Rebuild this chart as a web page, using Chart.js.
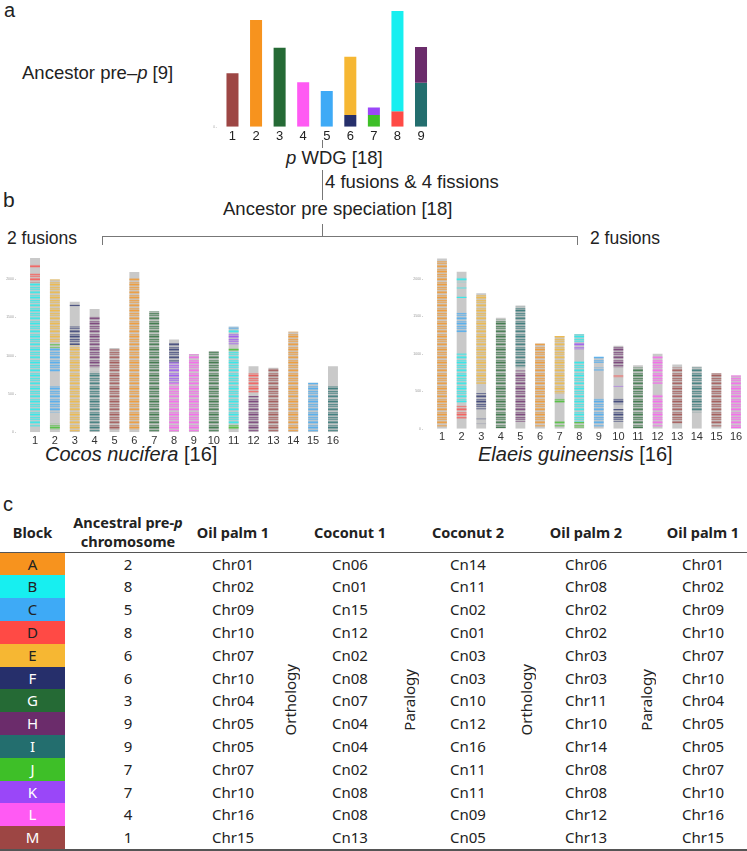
<!DOCTYPE html>
<html>
<head>
<meta charset="utf-8">
<script src="https://cdn.jsdelivr.net/npm/chart.js@4.4.1/dist/chart.umd.min.js"></script>
<style>
body { margin: 0; width: 747px; height: 851px; position: relative; background: #fff; overflow: hidden;
       font-family: "Liberation Sans", Arial, sans-serif; color: #222; }
.t { position: absolute; white-space: nowrap; line-height: 1; font-size: 18.5px; }
.ln { position: absolute; background: #777; }
canvas { position: absolute; }
#tbl { position: absolute; left: 0; top: 511.7px; width: 747px; border-collapse: collapse; table-layout: fixed;
       font-family: "Noto Sans", sans-serif; font-size: 15px; color: #222; }
#tbl th { font-size: 14.5px; font-weight: bold; height: 40px; padding: 0; line-height: 18.3px;
          border-bottom: 1.5px solid #555; vertical-align: middle; }
#tbl td { height: 22.8px; padding: 0; text-align: center; vertical-align: middle; line-height: 1; }
#tbl tr:last-child td { border-bottom: 2px solid #555; }
#tbl td.rot { border-bottom: 2px solid #555; }
.vt { writing-mode: vertical-rl; transform: rotate(180deg); display: inline-block; font-size: 15px; }
</style>
</head>
<body>

<div class="t" style="left:4px;top:0px;font-size:20px">a</div>
<div class="t" style="left:22px;top:64px">Ancestor pre–<i>p</i> [9]</div>
<div class="t" style="left:286px;top:149px"><i>p</i> WDG [18]</div>
<div class="t" style="left:325px;top:172.5px">4 fusions &amp; 4 fissions</div>
<div class="t" style="left:223px;top:200px">Ancestor pre speciation [18]</div>
<div class="t" style="left:3px;top:189px;font-size:21px">b</div>
<div class="t" style="left:7px;top:229.5px;font-size:17.5px">2 fusions</div>
<div class="t" style="left:590px;top:229.5px;font-size:17.5px">2 fusions</div>
<div class="t" style="left:45px;top:443.5px;font-size:20px"><i>Cocos nucifera</i> [16]</div>
<div class="t" style="left:478px;top:443.5px;font-size:20px"><i>Elaeis guineensis</i> [16]</div>
<div class="t" style="left:3px;top:494px;font-size:20px">c</div>

<div class="ln" style="left:322px;top:140px;width:1px;height:8px"></div>
<div class="ln" style="left:322px;top:170px;width:1px;height:30px"></div>
<div class="ln" style="left:322px;top:224px;width:1px;height:12px"></div>
<div class="ln" style="left:102px;top:236px;width:476px;height:1px"></div>
<div class="ln" style="left:102px;top:236px;width:1px;height:9px"></div>
<div class="ln" style="left:577px;top:236px;width:1px;height:9px"></div>

<canvas id="ancestor" width="240" height="150" style="left:200px;top:0px"></canvas>
<canvas id="cocos" width="350" height="205" style="left:0px;top:245px"></canvas>
<canvas id="elaeis" width="347" height="205" style="left:400px;top:245px"></canvas>

<table id="tbl"></table>

<script>
// blocks and their colours
const blocks = ["A", "B", "C", "D", "E", "F", "G", "H", "I", "J", "K", "L", "M"];
const blockColors = ["#f7931e", "#17eff0", "#3eaaf6", "#ff4a45", "#f6b733", "#262f6b", "#256a35",
                     "#6b2c6b", "#236e6e", "#3ebf28", "#9a47f8", "#ff5af3", "#9d4644"];
const blockDarkText = ["A", "B", "C", "D", "E"];

/* ================= PANEL A ================= */
const ancestorLabels = ["1", "2", "3", "4", "5", "6", "7", "8", "9"];
// [chromosome, from, to, block]
const ancestorSegments = [
    [1, 0, 2320, "M"],
    [2, 0, 4640, "A"],
    [3, 0, 3430, "G"],
    [4, 0, 1930, "L"],
    [5, 0, 1550, "C"],
    [6, 0, 510, "F"], [6, 510, 3040, "E"],
    [7, 0, 510, "J"], [7, 510, 840, "K"],
    [8, 0, 670, "D"], [8, 670, 5030, "B"],
    [9, 0, 1910, "I"], [9, 1910, 3470, "H"]
];

/* ================= PANEL B ================= */
const chromLabels = ["1", "2", "3", "4", "5", "6", "7", "8", "9", "10", "11", "12", "13", "14", "15", "16"];
const cocosLengths = [2274, 1995, 1705, 1608, 1099, 2092, 1579, 1212, 1023, 1061, 1377, 863, 842, 1314, 648, 863];
const elaeisLengths = [2269, 2090, 1804, 1479, 1641, 1137, 1235, 1261, 957, 1107, 846, 1000, 855, 829, 739, 709];
const yTicks = [0, 500, 1000, 1500, 2000];

// [chromosome, top, bottom, block]
const cocosBands = [
    [1, 2189, 2147, "D"], [1, 2080, 1953, "D"], [1, 1953, 72, "B"],
    [2, 1995, 1166, "E"], [2, 1150, 1100, "J"], [2, 1100, 790, "C"], [2, 600, 260, "C"], [2, 115, 30, "J"],
    [3, 1665, 1645, "F"], [3, 1380, 1140, "F"], [3, 1140, 10, "E"],
    [4, 1510, 850, "H"], [4, 790, 10, "I"],
    [5, 1080, 30, "M"],
    [6, 2010, 30, "A"],
    [7, 1580, 10, "G"],
    [8, 1166, 914, "F"], [8, 914, 640, "K"], [8, 640, 10, "L"],
    [9, 1020, 10, "L"],
    [10, 1060, 10, "G"],
    [11, 1377, 1345, "C"], [11, 1345, 1295, "B"], [11, 1295, 1150, "K"], [11, 1095, 1060, "J"],
    [11, 1060, 95, "B"], [11, 95, 40, "J"],
    [12, 770, 515, "D"], [12, 475, 10, "H"],
    [13, 840, 10, "M"],
    [14, 1314, 10, "A"],
    [15, 648, 10, "C"],
    [16, 600, 10, "I"]
];
const elaeisBands = [
    [1, 2230, 25, "A"],
    [2, 2015, 1950, "B"], [2, 1880, 1860, "B"], [2, 1760, 1740, "B"], [2, 1545, 1285, "C"],
    [2, 1010, 350, "B"], [2, 305, 130, "D"],
    [3, 1780, 600, "E"], [3, 475, 260, "F"], [3, 140, 125, "F"], [3, 70, 55, "F"],
    [4, 1460, 10, "G"],
    [5, 1630, 820, "I"], [5, 775, 90, "H"],
    [6, 1137, 25, "A"],
    [7, 1235, 470, "E"], [7, 410, 345, "J"], [7, 100, 25, "J"],
    [8, 1257, 1150, "B"], [8, 1150, 1060, "K"], [8, 900, 90, "B"], [8, 90, 15, "J"],
    [9, 962, 880, "C"], [9, 816, 774, "C"], [9, 410, 25, "C"],
    [10, 1100, 820, "H"], [10, 710, 680, "D"], [10, 581, 560, "K"], [10, 410, 325, "F"], [10, 261, 90, "F"],
    [11, 816, 5, "G"],
    [12, 966, 600, "L"], [12, 455, 26, "L"],
    [13, 816, 68, "M"],
    [14, 816, 218, "I"],
    [15, 740, 26, "M"],
    [16, 709, 4, "L"]
];

/* ================= PANEL C ================= */
const tableAncestral = [2, 8, 5, 8, 6, 6, 3, 9, 9, 7, 7, 4, 1];
const tableOilPalm1 = ["Chr01", "Chr02", "Chr09", "Chr10", "Chr07", "Chr10", "Chr04", "Chr05", "Chr05", "Chr07", "Chr10", "Chr16", "Chr15"];
const tableCoconut1 = ["Cn06", "Cn01", "Cn15", "Cn12", "Cn02", "Cn08", "Cn07", "Cn04", "Cn04", "Cn02", "Cn08", "Cn08", "Cn13"];
const tableCoconut2 = ["Cn14", "Cn11", "Cn02", "Cn01", "Cn03", "Cn03", "Cn10", "Cn12", "Cn16", "Cn11", "Cn11", "Cn09", "Cn05"];
const tableOilPalm2 = ["Chr06", "Chr08", "Chr02", "Chr02", "Chr03", "Chr03", "Chr11", "Chr10", "Chr14", "Chr08", "Chr08", "Chr12", "Chr13"];

function colorOf(b) { return blockColors[blocks.indexOf(b)]; }

// striped fill, like the gene lines on the chromosomes
function stripe(color) {
    const c = document.createElement("canvas");
    c.width = 1; c.height = 13;
    const g = c.getContext("2d");
    [0.8, 0.4, 0.15, 0.65, 0.3, 0.55, 0.1, 0.45, 0.75, 0.25, 0.05, 0.5, 0.35].forEach((a, i) => {
        g.globalAlpha = a;
        g.fillStyle = color;
        g.fillRect(0, i, 1, 1);
    });
    return g.createPattern(c, "repeat");
}

function fixed(w, h) {
    return s => { if (w !== undefined) s.width = w; if (h !== undefined) s.height = h; };
}

new Chart(document.getElementById("ancestor"), {
    type: "bar",
    data: {
        labels: ancestorLabels,
        datasets: blocks.map(b => ({
            label: b,
            data: ancestorSegments.filter(s => s[3] === b).map(s => ({ x: String(s[0]), y: [s[1], s[2]] })),
            backgroundColor: colorOf(b)
        }))
    },
    options: {
        responsive: false, animation: false, events: [],
        layout: { padding: { left: 0, right: 7.2, top: 9.4, bottom: 0 } },
        datasets: { bar: { grouped: false, barPercentage: 0.51, categoryPercentage: 1 } },
        plugins: { legend: { display: false }, tooltip: { enabled: false } },
        scales: {
            x: {
                grid: { display: false, drawTicks: false }, border: { display: false },
                ticks: { font: { size: 13, family: "Liberation Sans" }, color: "#222", padding: 2 },
                afterFit: fixed(undefined, 23.3)
            },
            y: {
                min: 0, max: 5100,
                grid: { display: false, drawTicks: false }, border: { display: false },
                ticks: { stepSize: 1000, font: { size: 3 }, color: "#999", padding: 4,
                         callback: v => v % 1000 === 0 ? v + " -" : "" },
                afterFit: fixed(20.7)
            }
        }
    }
});

function chromChart(id, lengths, bands, pad, yW, xH) {
    const datasets = blocks.map(b => ({
        label: b,
        data: bands.filter(d => d[3] === b).map(d => ({ x: String(d[0]), y: [d[2], d[1]] })),
        backgroundColor: stripe(colorOf(b)),
        order: 0
    }));
    datasets.push({
        label: "chromosome",
        data: lengths.map((v, i) => ({ x: chromLabels[i], y: [0, v] })),
        backgroundColor: "#c9c9c9",
        order: 1
    });
    new Chart(document.getElementById(id), {
        type: "bar",
        data: { labels: chromLabels, datasets },
        options: {
            responsive: false, animation: false, events: [],
            layout: { padding: pad },
            datasets: { bar: { grouped: false, barPercentage: 0.5, categoryPercentage: 1 } },
            plugins: { legend: { display: false }, tooltip: { enabled: false } },
            scales: {
                x: {
                    grid: { display: false, drawTicks: false }, border: { display: false },
                    ticks: { font: { size: 11, family: "Liberation Sans" }, color: "#333", padding: 2,
                             autoSkip: false, maxRotation: 0 },
                    afterFit: fixed(undefined, xH)
                },
                y: {
                    min: 0, max: 2300,
                    afterBuildTicks: s => { s.ticks = yTicks.map(v => ({ value: v })); },
                    grid: { display: false, drawTicks: false }, border: { display: false },
                    ticks: { font: { size: 3.5 }, color: "#999", padding: 9, callback: v => v + " -" },
                    afterFit: fixed(yW)
                }
            }
        }
    });
}

chromChart("cocos", cocosLengths, cocosBands, { left: 0, right: 7.1, top: 5.1, bottom: 0 }, 25.1, 17.7);
chromChart("elaeis", elaeisLengths, elaeisBands, { left: 0, right: 1.2, top: 4.3, bottom: 0 }, 32.2, 21.3);

/* ================= TABLE ================= */
const colW = [65, 126, 84, 30, 90, 28, 90, 26, 94, 26, 88];
let html = "<colgroup>" + colW.map(w => `<col style="width:${w}px">`).join("") + "</colgroup>";
html += `<tr><th>Block</th><th>Ancestral pre-<i>p</i><br>chromosome</th><th>Oil palm 1</th><th></th>
<th>Coconut 1</th><th></th><th>Coconut 2</th><th></th><th>Oil palm 2</th><th></th><th>Oil palm 1</th></tr>`;
blocks.forEach((b, i) => {
    const txt = blockDarkText.includes(b) ? "#222" : "#fff";
    const rot = t => i === 0 ? `<td class="rot" rowspan="${blocks.length}"><span class="vt">${t}</span></td>` : "";
    html += `<tr>
        <td style="background:${colorOf(b)};color:${txt}">${b}</td>
        <td>${tableAncestral[i]}</td>
        <td>${tableOilPalm1[i]}</td>${rot("Orthology")}
        <td>${tableCoconut1[i]}</td>${rot("Paralogy")}
        <td>${tableCoconut2[i]}</td>${rot("Orthology")}
        <td>${tableOilPalm2[i]}</td>${rot("Paralogy")}
        <td>${tableOilPalm1[i]}</td>
    </tr>`;
});
document.getElementById("tbl").innerHTML = html;
</script>
</body>
</html>
